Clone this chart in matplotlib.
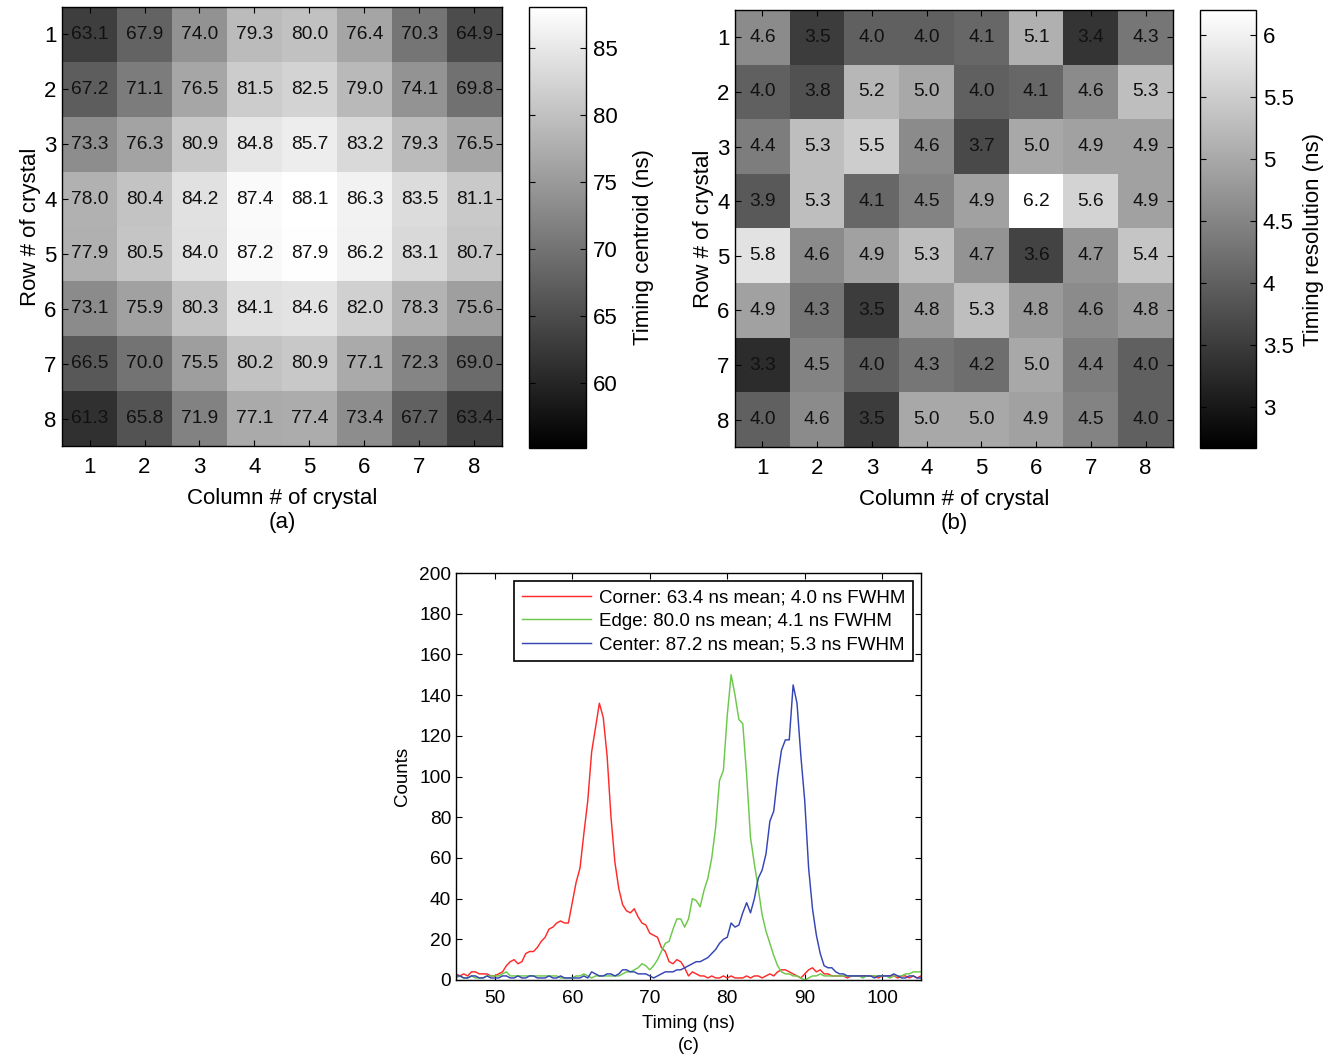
import numpy as np
import matplotlib
matplotlib.use('Agg')
import matplotlib.pyplot as plt

plt.rcParams['font.family'] = ['Liberation Sans', 'DejaVu Sans']

# crystal grid labels
rows = [1, 2, 3, 4, 5, 6, 7, 8]
cols = [1, 2, 3, 4, 5, 6, 7, 8]

# timing centroid per crystal (ns), row 1 at top
centroid = [
    [63.1, 67.9, 74.0, 79.3, 80.0, 76.4, 70.3, 64.9],
    [67.2, 71.1, 76.5, 81.5, 82.5, 79.0, 74.1, 69.8],
    [73.3, 76.3, 80.9, 84.8, 85.7, 83.2, 79.3, 76.5],
    [78.0, 80.4, 84.2, 87.4, 88.1, 86.3, 83.5, 81.1],
    [77.9, 80.5, 84.0, 87.2, 87.9, 86.2, 83.1, 80.7],
    [73.1, 75.9, 80.3, 84.1, 84.6, 82.0, 78.3, 75.6],
    [66.5, 70.0, 75.5, 80.2, 80.9, 77.1, 72.3, 69.0],
    [61.3, 65.8, 71.9, 77.1, 77.4, 73.4, 67.7, 63.4],
]

# timing resolution per crystal (ns)
resolution = [
    [4.6, 3.5, 4.0, 4.0, 4.1, 5.1, 3.4, 4.3],
    [4.0, 3.8, 5.2, 5.0, 4.0, 4.1, 4.6, 5.3],
    [4.4, 5.3, 5.5, 4.6, 3.7, 5.0, 4.9, 4.9],
    [3.9, 5.3, 4.1, 4.5, 4.9, 6.2, 5.6, 4.9],
    [5.8, 4.6, 4.9, 5.3, 4.7, 3.6, 4.7, 5.4],
    [4.9, 4.3, 3.5, 4.8, 5.3, 4.8, 4.6, 4.8],
    [3.3, 4.5, 4.0, 4.3, 4.2, 5.0, 4.4, 4.0],
    [4.0, 4.6, 3.5, 5.0, 5.0, 4.9, 4.5, 4.0],
]

centroid_ticks = [60, 65, 70, 75, 80, 85]
resolution_ticks = [3, 3.5, 4, 4.5, 5, 5.5, 6]

# timing spectra, sampled every 0.5 ns from 45 to 105 ns
timing = np.arange(45.0, 105.01, 0.5)
corner = [
    3, 2, 3, 2, 4, 4, 3, 3, 3, 2,
    2, 3, 4, 7, 9, 10, 8, 9, 13, 14,
    14, 16, 19, 21, 25, 26, 28, 29, 28, 28,
    38, 48, 55, 72, 88, 112, 124, 136, 129, 110,
    80, 58, 45, 37, 34, 33, 35, 31, 28, 27,
    23, 22, 21, 16, 14, 9, 8, 10, 9, 6,
    2, 4, 3, 2, 2, 1, 2, 1, 1, 2,
    1, 2, 1, 1, 1, 2, 1, 2, 2, 1,
    2, 3, 2, 4, 5, 5, 4, 3, 2, 1,
    3, 5, 6, 4, 5, 3, 3, 2, 2, 2,
    2, 1, 2, 2, 2, 2, 2, 2, 2, 1,
    2, 2, 2, 2, 1, 2, 2, 1, 2, 1,
    2,
]
edge = [
    1, 2, 1, 1, 2, 1, 1, 1, 2, 2,
    2, 2, 3, 4, 2, 2, 2, 2, 2, 2,
    2, 2, 2, 2, 2, 2, 2, 1, 1, 1,
    1, 2, 2, 3, 2, 1, 2, 2, 2, 2,
    2, 2, 2, 3, 4, 4, 5, 6, 8, 7,
    5, 7, 10, 14, 18, 19, 25, 30, 30, 26,
    30, 40, 39, 36, 44, 50, 60, 75, 98, 103,
    130, 150, 140, 128, 126, 101, 70, 57, 45, 32,
    24, 18, 12, 7, 4, 3, 3, 2, 2, 1,
    0, 1, 2, 2, 3, 2, 2, 2, 2, 2,
    2, 2, 2, 2, 2, 1, 2, 2, 2, 2,
    2, 2, 1, 2, 2, 2, 3, 3, 4, 4,
    4,
]
center = [
    2, 2, 1, 1, 2, 2, 1, 1, 2, 1,
    1, 1, 2, 2, 1, 1, 2, 1, 1, 2,
    2, 1, 1, 1, 2, 1, 1, 2, 1, 1,
    1, 1, 1, 2, 1, 4, 3, 2, 2, 3,
    3, 2, 3, 5, 5, 4, 4, 3, 3, 3,
    2, 1, 2, 3, 4, 4, 4, 5, 5, 6,
    7, 8, 9, 9, 10, 11, 13, 15, 18, 20,
    21, 28, 26, 27, 33, 38, 33, 40, 50, 54,
    62, 78, 83, 100, 113, 118, 118, 145, 136, 110,
    88, 55, 35, 22, 13, 7, 6, 6, 4, 3,
    3, 2, 2, 2, 2, 2, 2, 2, 1, 2,
    2, 2, 2, 3, 2, 1, 1, 2, 2, 1,
    1,
]
spectra_labels = [
    'Corner: 63.4 ns mean; 4.0 ns FWHM',
    'Edge: 80.0 ns mean; 4.1 ns FWHM',
    'Center: 87.2 ns mean; 5.3 ns FWHM',
]
spectra_colors = ['#ff2a2a', '#6cc84a', '#3445b4']

W, H = 1342, 1059
fig = plt.figure(figsize=(W / 100, H / 100), dpi=100)


def box(x0, y0, x1, y1):
    # pixel box (left, top, right, bottom) -> figure fraction rect
    return [x0 / W, 1 - y1 / H, (x1 - x0) / W, (y1 - y0) / H]


def crystal_map(ax_rect, cax_rect, data, vmin, vmax, cticks, clabel, label_xy, tag):
    ax = fig.add_axes(box(*ax_rect))
    im = ax.imshow(np.array(data), cmap='gray', vmin=vmin, vmax=vmax,
                   extent=(0.5, 8.5, 8.5, 0.5), aspect='auto',
                   interpolation='nearest')
    for i, r in enumerate(data):
        for j, v in enumerate(r):
            ax.text(cols[j], rows[i], f'{v:.1f}', ha='center', va='center',
                    fontsize=13.8, color='#111111')
    ax.set_xticks(cols)
    ax.set_yticks(rows)
    ax.tick_params(direction='in', top=True, right=True, length=4,
                   labelsize=16, width=0.8)
    ax.tick_params(axis='x', pad=8)
    ax.tick_params(axis='y', pad=4)
    ax.set_xlabel('Column # of crystal\n' + tag, fontsize=16,
                  linespacing=1.2, labelpad=7)
    ax.set_ylabel('Row # of crystal', fontsize=16, labelpad=2)
    for s in ax.spines.values():
        s.set_linewidth(1.0)

    cax = fig.add_axes(box(*cax_rect))
    cb = fig.colorbar(im, cax=cax, ticks=cticks)
    cb.ax.set_yticklabels([f'{t:g}' for t in cticks])
    cb.ax.tick_params(direction='in', left=True, right=True, length=4,
                      labelsize=16, pad=5, width=0.8)
    cb.set_label(clabel, fontsize=16)
    cb.ax.yaxis.set_label_coords(*label_xy)
    cb.outline.set_linewidth(1.0)
    return ax


crystal_map((62, 7, 502, 446), (529, 7, 586, 448), centroid, 55.1, 88.1,
            centroid_ticks, 'Timing centroid (ns)', (1.82, 0.455), '(a)')
crystal_map((735, 10, 1173, 447), (1200, 10, 1256, 448), resolution, 2.67, 6.2,
            resolution_ticks, 'Timing resolution (ns)', (1.84, 0.475), '(b)')

# timing spectra for three crystal positions
axc = fig.add_axes(box(456, 573, 921, 980))
for ys, lab, col in zip([corner, edge, center], spectra_labels, spectra_colors):
    axc.plot(timing, ys, color=col, linewidth=1.05, label=lab)
axc.set_xlim(45, 105)
axc.set_ylim(0, 200)
axc.set_xticks([50, 60, 70, 80, 90, 100])
axc.set_yticks(range(0, 201, 20))
axc.tick_params(direction='in', top=True, right=True, length=4,
                labelsize=13.8, width=0.8)
axc.tick_params(axis='x', pad=7)
axc.set_xlabel('Timing (ns)\n(c)', fontsize=13.5, linespacing=1.35, labelpad=6)
axc.set_ylabel('Counts', fontsize=13.5, labelpad=6)
for s in axc.spines.values():
    s.set_linewidth(1.0)
leg = axc.legend(loc='upper right', fontsize=13.5, handlelength=3.7,
                 handletextpad=0.4, borderaxespad=0.45, labelspacing=0.36,
                 borderpad=0.4, fancybox=False, framealpha=1)
leg.get_frame().set_edgecolor('black')
leg.get_frame().set_linewidth(1.2)

fig.savefig('out.png', dpi=100)
